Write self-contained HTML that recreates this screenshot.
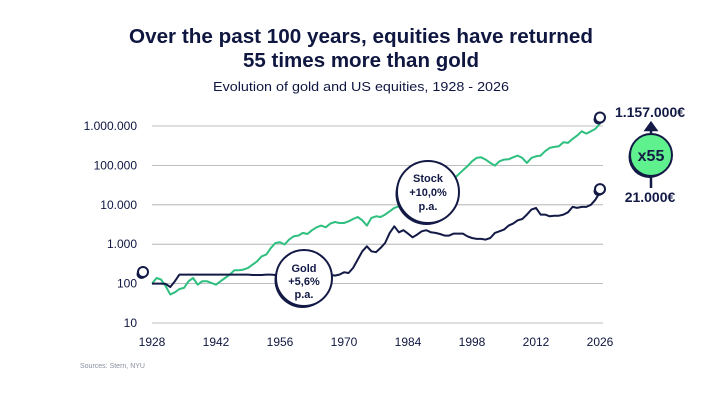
<!DOCTYPE html>
<html><head><meta charset="utf-8"><style>
body{margin:0;background:#fff;}
svg{display:block;font-family:"Liberation Sans",sans-serif;}
</style></head><body>
<svg id="chart" width="720" height="405" viewBox="0 0 720 405">
<text x="361" y="43" text-anchor="middle" font-size="20" font-weight="bold" fill="#0f1640" textLength="464" lengthAdjust="spacingAndGlyphs">Over the past 100 years, equities have returned</text>
<text x="361" y="67" text-anchor="middle" font-size="20" font-weight="bold" fill="#0f1640" textLength="236" lengthAdjust="spacingAndGlyphs">55 times more than gold</text>
<text x="361" y="91" text-anchor="middle" font-size="13" fill="#0f1640" textLength="296" lengthAdjust="spacingAndGlyphs">Evolution of gold and US equities, 1928 - 2026</text>
<g id="grid"></g><g id="series"></g><g id="annot"></g>
<text x="80" y="368" font-size="7" fill="#8a8fa0">Sources: Stern, NYU</text>
</svg>
<script>
const years=[1928,1929,1930,1931,1932,1933,1934,1935,1936,1937,1938,1939,1940,1941,1942,1943,1944,1945,1946,1947,1948,1949,1950,1951,1952,1953,1954,1955,1956,1957,1958,1959,1960,1961,1962,1963,1964,1965,1966,1967,1968,1969,1970,1971,1972,1973,1974,1975,1976,1977,1978,1979,1980,1981,1982,1983,1984,1985,1986,1987,1988,1989,1990,1991,1992,1993,1994,1995,1996,1997,1998,1999,2000,2001,2002,2003,2004,2005,2006,2007,2008,2009,2010,2011,2012,2013,2014,2015,2016,2017,2018,2019,2020,2021,2022,2023,2024,2025,2026];
const stockValues=[100,139,126,86,53,60,73,78,115,139,94,115,115,104,94,115,139,169,218,218,226,250,303,369,494,545,804,1075,1120,980,1310,1590,1650,1930,1820,2260,2690,2960,2690,3330,3670,3460,3460,3810,4360,4900,4040,2960,4650,5120,4900,5630,6850,8320,9180,14900,19200,25200,32600,35900,39600,43600,39600,45300,47900,50900,45300,58300,75200,95000,127000,155000,161000,140000,116000,98900,127000,140000,143000,161000,177000,155000,116000,155000,170000,177000,229000,278000,294000,306000,387000,372000,470000,571000,735000,641000,735000,843000,1157000];
const goldValues=[100,100,100,98,82,115,169,169,169,169,169,169,169,169,169,169,169,169,169,169,169,169,165,165,165,169,169,165,169,169,169,169,169,169,169,169,169,169,169,169,160,169,194,186,250,406,660,887,660,625,804,1075,1930,2850,2000,2260,1860,1500,1750,2130,2260,2000,1930,1820,1650,1650,1860,1860,1860,1590,1440,1360,1360,1310,1440,1930,2130,2350,2960,3330,4040,4360,5630,7550,8320,5630,5630,5120,5300,5300,5630,6440,8830,8320,8830,8830,10000,13500,21000];
const yTicks=[10,100,1000,10000,100000,1000000];
const yTickLabels=["10","100","1.000","10.000","100.000","1.000.000"];
const xTicks=[1928,1942,1956,1970,1984,1998,2012,2026];
const NS="http://www.w3.org/2000/svg";
const X=y=>152+(y-1928)*(448/98);
const Y=v=>323-(Math.log10(v)-1)*39.4;
function mk(tag,attrs,parent,text){const e=document.createElementNS(NS,tag);for(const k in attrs)e.setAttribute(k,attrs[k]);if(text!==undefined)e.textContent=text;parent.appendChild(e);return e;}
const grid=document.getElementById('grid');
yTicks.forEach((t,i)=>{
 const l=mk('line',{x1:152,x2:603,y1:Y(t),y2:Y(t),stroke:'#a9a9a9','stroke-width':0.8},grid);
 
 
 const tx=mk('text',{x:137,y:Y(t)+4,'text-anchor':'end','font-size':12,fill:'#0f1640'},grid,yTickLabels[i]);
 
 
});
xTicks.forEach(t=>{
 const tx=mk('text',{x:X(t),y:346,'text-anchor':'middle','font-size':12,fill:'#0f1640'},grid,String(t));
 
 
});
const ser=document.getElementById('series');
function line(vals,color,name){
 const d=vals.map((v,i)=>(i?'L':'M')+X(years[i]).toFixed(1)+','+Y(v).toFixed(1)).join('');
 const p=mk('path',{d:d,fill:'none',stroke:color,'stroke-width':2,'stroke-linejoin':'round'},ser);
 
 
}
line(stockValues,'#2fbf7f','stock-line');
line(goldValues,'#131a45','gold-line');
const an=document.getElementById('annot');
function badge(cx,cy,r,fill,name,sw){
 const g=mk('g',{},an);
 
 
 mk('circle',{cx:cx-1.5,cy:cy+2,r:r,fill:'#131a45'},g);
 mk('circle',{cx:cx,cy:cy,r:r,fill:fill,stroke:'#131a45','stroke-width':sw},g);
 return g;
}
const lastI=years.length-1;
badge(143,272,5,'#fff','start-marker',2);
badge(X(years[lastI]),Y(stockValues[lastI])-6,5,'#fff','stock-end-marker',2);
badge(X(years[lastI]),Y(goldValues[lastI])-3,5,'#fff','gold-end-marker',2);
let g=badge(304,278,28,'#fff','gold-label-bubble',2);
[['Gold',272],['+5,6%',285],['p.a.',298]].forEach(a=>mk('text',{x:304,y:a[1],'text-anchor':'middle','font-size':11,'font-weight':'bold',fill:'#131a45'},g,a[0]));
g=badge(428,192,31,'#fff','stock-label-bubble',2);
[['Stock',182],['+10,0%',196],['p.a.',210]].forEach(a=>mk('text',{x:428,y:a[1],'text-anchor':'middle','font-size':11,'font-weight':'bold',fill:'#131a45'},g,a[0]));
let t=mk('text',{x:650,y:117,'text-anchor':'middle','font-size':14,'font-weight':'bold',fill:'#131a45'},an,'1.157.000€');


t=mk('text',{x:650,y:202,'text-anchor':'middle','font-size':14,'font-weight':'bold',fill:'#131a45'},an,'21.000€');


let a=mk('path',{d:'M651,136 L651,128 M646,130 L651,123 L656,130 Z',stroke:'#131a45','stroke-width':2.5,fill:'#131a45'},an);


a=mk('line',{x1:651,y1:175,x2:651,y2:188,stroke:'#131a45','stroke-width':2.5},an);


g=badge(651,155,21,'#5ef18d','multiplier-badge',2);
mk('text',{x:651,y:161,'text-anchor':'middle','font-size':16,'font-weight':'bold',fill:'#131a45'},g,'x55');
</script>
</body></html>
